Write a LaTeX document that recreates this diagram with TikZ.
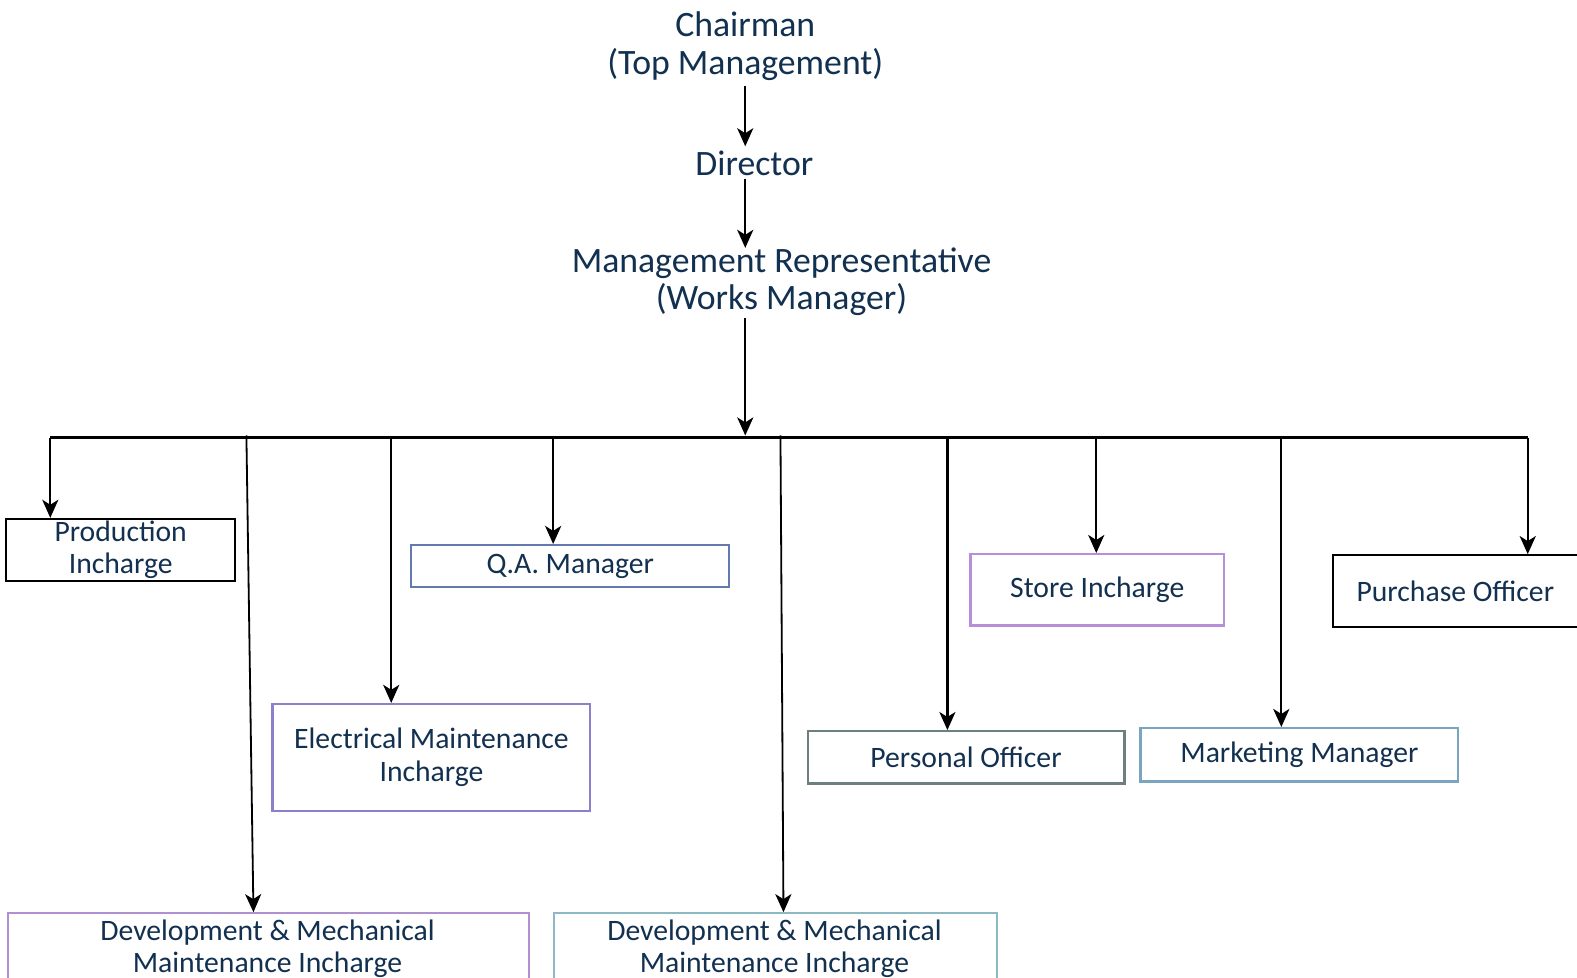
\documentclass[tikz,border=0pt]{standalone}
\usepackage{fontspec}
\setmainfont{Carlito}
\usetikzlibrary{arrows.meta,calc}
\definecolor{txt}{HTML}{12304F}
\definecolor{qac}{HTML}{6379B0}
\definecolor{elc}{HTML}{8A80CC}
\definecolor{d1c}{HTML}{B090D0}
\definecolor{d2c}{HTML}{8DB9C2}
\definecolor{poc}{HTML}{6E7F80}
\definecolor{stc}{HTML}{B88ED8}
\definecolor{mkc}{HTML}{79A5C0}
\begin{document}
\begin{tikzpicture}[x=1pt,y=-1pt,
 arr/.style={-{Stealth[length=18pt,width=16pt,inset=5pt]},line width=2.2pt},
 topt/.style={text=txt,font=\fontsize{35.5}{37}\selectfont,align=center,inner sep=0pt},
 boxt/.style={text=txt,font=\fontsize{29.5}{32}\selectfont,align=center,inner sep=0pt},
 obox/.style={draw,line width=2.2pt,inner sep=0pt,boxt}]
\useasboundingbox (0,0) rectangle (1568,972.4);
\fill[white] (0,0) rectangle (1568,972.4);
\clip (0,0) rectangle (1568,972.4);

\node[topt] (chair) at (741,46) {Chairman\\(Top Management)};
\node[topt] (dir) at (750,162) {Director};
\node[topt] (mr) at (777,280.5) {Management Representative\\(Works Manager)};
\coordinate (ax) at (741,0);
\draw[arr,shorten <=5pt,shorten >=4pt] (chair.south -| ax) -- (dir.north -| ax);
\draw[arr,shorten <=3pt] (dir.south -| ax) -- (mr.north -| ax);

\coordinate (bl) at (50,435);
\coordinate (br) at (1519,435);
\draw[line width=2.2pt] (bl) -- (br);
\draw[arr,shorten <=2pt,shorten >=2pt] (mr.south -| ax) -- (ax |- bl);

\node[obox, draw=black, minimum width=228, minimum height=62] (prod) at (120,547) {Production\\Incharge};
\node[obox, draw=qac, minimum width=316, minimum height=42] (qa) at (567,563) {Q.A. Manager};
\node[obox, draw=elc, minimum width=316, minimum height=106] (el) at (429,753) {Electrical Maintenance\\Incharge};
\node[obox, draw=poc, minimum width=315, minimum height=52] (pers) at (960.5,753) {Personal Officer};
\node[obox, draw=stc, minimum width=252, minimum height=71] (store) at (1091,586.5) {Store Incharge};
\node[obox, draw=mkc, minimum width=316, minimum height=53] (mkt) at (1292,750.5) {Marketing Manager};
\node[draw=black, line width=2.2pt, minimum width=280, minimum height=71, anchor=north west] (pur) at (1324,551) {};
\node[boxt] (purt) at (1447,588) {Purchase Officer};
\node[draw=d1c, line width=2.2pt, minimum width=518, minimum height=90, anchor=north west] (dm1) at (7,907) {};
\node[boxt] (dm1t) at (266,943) {Development \& Mechanical\\Maintenance Incharge};
\node[draw=d2c, line width=2.2pt, minimum width=440, minimum height=90, anchor=north west] (dm2) at (550,907) {};
\node[boxt] (dm2t) at (770,943) {Development \& Mechanical\\Maintenance Incharge};

\coordinate (b2) at (245,433);
\coordinate (b3) at (389,435);
\coordinate (b4) at (550,435);
\coordinate (b5) at (776,433);
\coordinate (b6) at (942,435);
\coordinate (b7) at (1090,435);
\coordinate (b8) at (1274,435);

\draw[arr] (bl) -- (prod.north -| bl);
\draw[arr,line width=1.8pt] (b2) -- ([xshift=245pt]dm1.north west);
\draw[arr] (b3) -- (el.north -| b3);
\draw[arr] (b4) -- (qa.north -| b4);
\draw[arr,line width=1.8pt] (b5) -- ([xshift=229pt]dm2.north west);
\draw[arr] (b6) -- (pers.north -| b6);
\draw[arr] (b7) -- (store.north -| b7);
\draw[arr] (b8) -- (mkt.north -| b8);
\draw[arr] (br) -- (pur.north -| br);
\end{tikzpicture}
\end{document}
